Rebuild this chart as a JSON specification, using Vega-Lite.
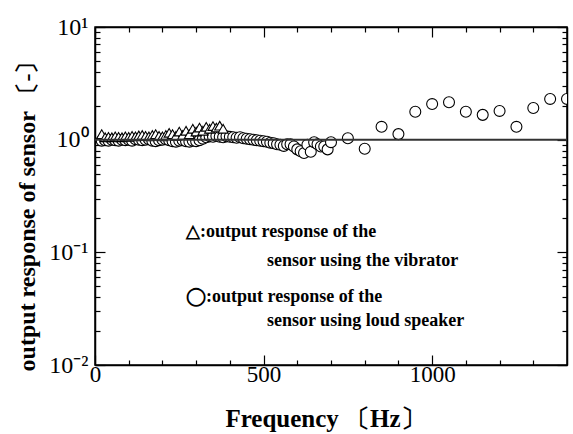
{
  "$schema": "https://vega.github.io/schema/vega-lite/v6.json",
  "width": 472,
  "height": 338,
  "autosize": "none",
  "padding": {"left": 95, "top": 27, "right": 6, "bottom": 69},
  "background": "white",
  "config": {
    "font": "Liberation Serif",
    "view": {"stroke": "black", "strokeWidth": 1.5},
    "axis": {"domainColor": "black", "domainWidth": 1.5, "tickColor": "black", "tickWidth": 1.2, "ticks": true, "grid": false, "labelColor": "black", "titleColor": "black"}
  },
  "datasets": {
    "speaker": [
      {"f": 20, "v": 0.98}, {"f": 30, "v": 0.99}, {"f": 40, "v": 0.98}, {"f": 50, "v": 1.0}, {"f": 60, "v": 0.99},
      {"f": 70, "v": 0.98}, {"f": 80, "v": 1.0}, {"f": 90, "v": 0.99}, {"f": 100, "v": 1.0}, {"f": 110, "v": 0.98},
      {"f": 120, "v": 1.01}, {"f": 130, "v": 1.0}, {"f": 140, "v": 0.99}, {"f": 150, "v": 1.0}, {"f": 160, "v": 1.01},
      {"f": 170, "v": 0.98}, {"f": 180, "v": 0.97}, {"f": 190, "v": 0.99}, {"f": 200, "v": 1.0}, {"f": 210, "v": 1.01},
      {"f": 220, "v": 0.99}, {"f": 230, "v": 0.97}, {"f": 240, "v": 0.96}, {"f": 250, "v": 0.98}, {"f": 260, "v": 0.99},
      {"f": 270, "v": 0.97}, {"f": 280, "v": 0.96}, {"f": 290, "v": 0.98}, {"f": 300, "v": 0.97}, {"f": 310, "v": 0.99},
      {"f": 320, "v": 1.02}, {"f": 330, "v": 1.05}, {"f": 340, "v": 1.07}, {"f": 350, "v": 1.06}, {"f": 360, "v": 1.08},
      {"f": 370, "v": 1.06}, {"f": 380, "v": 1.05}, {"f": 390, "v": 1.07}, {"f": 400, "v": 1.06}, {"f": 410, "v": 1.05},
      {"f": 420, "v": 1.04}, {"f": 430, "v": 1.05}, {"f": 440, "v": 1.03}, {"f": 450, "v": 1.02}, {"f": 460, "v": 1.01},
      {"f": 470, "v": 1.0}, {"f": 480, "v": 0.99}, {"f": 490, "v": 0.98}, {"f": 500, "v": 0.97}, {"f": 510, "v": 0.96},
      {"f": 520, "v": 0.94}, {"f": 530, "v": 0.93}, {"f": 540, "v": 0.91}, {"f": 550, "v": 0.9}, {"f": 560, "v": 0.88},
      {"f": 570, "v": 0.91}, {"f": 580, "v": 0.91}, {"f": 590, "v": 0.87}, {"f": 600, "v": 0.82}, {"f": 610, "v": 0.79},
      {"f": 620, "v": 0.76}, {"f": 630, "v": 0.9}, {"f": 640, "v": 0.78}, {"f": 650, "v": 0.95}, {"f": 660, "v": 0.91},
      {"f": 670, "v": 0.87}, {"f": 680, "v": 0.87}, {"f": 690, "v": 0.82}, {"f": 700, "v": 0.95},
      {"f": 750, "v": 1.03}, {"f": 800, "v": 0.83}, {"f": 850, "v": 1.3}, {"f": 900, "v": 1.12}, {"f": 950, "v": 1.77},
      {"f": 1000, "v": 2.07}, {"f": 1050, "v": 2.15}, {"f": 1100, "v": 1.77}, {"f": 1150, "v": 1.66}, {"f": 1200, "v": 1.8},
      {"f": 1250, "v": 1.3}, {"f": 1300, "v": 1.91}, {"f": 1350, "v": 2.3}, {"f": 1400, "v": 2.3}
    ],
    "vibrator": [
      {"f": 20, "v": 1.12}, {"f": 30, "v": 1.05}, {"f": 40, "v": 1.06}, {"f": 50, "v": 1.05}, {"f": 60, "v": 1.07},
      {"f": 70, "v": 1.06}, {"f": 80, "v": 1.05}, {"f": 90, "v": 1.07}, {"f": 100, "v": 1.06}, {"f": 110, "v": 1.08},
      {"f": 120, "v": 1.07}, {"f": 130, "v": 1.09}, {"f": 140, "v": 1.1}, {"f": 150, "v": 1.08}, {"f": 160, "v": 1.07},
      {"f": 170, "v": 1.1}, {"f": 180, "v": 1.12}, {"f": 190, "v": 1.08}, {"f": 200, "v": 1.07}, {"f": 210, "v": 1.1},
      {"f": 220, "v": 1.15}, {"f": 230, "v": 1.12}, {"f": 240, "v": 1.08}, {"f": 250, "v": 1.18}, {"f": 260, "v": 1.1},
      {"f": 270, "v": 1.2}, {"f": 280, "v": 1.12}, {"f": 290, "v": 1.25}, {"f": 300, "v": 1.18}, {"f": 310, "v": 1.28},
      {"f": 320, "v": 1.2}, {"f": 330, "v": 1.3}, {"f": 340, "v": 1.25}, {"f": 350, "v": 1.32}, {"f": 360, "v": 1.28},
      {"f": 370, "v": 1.33}, {"f": 380, "v": 1.25}
    ],
    "notes": [
      {"f": 270, "v": 0.152, "t": "△:output response of the"},
      {"f": 510, "v": 0.0839, "t": "sensor using the vibrator"},
      {"f": 270, "v": 0.0402, "t": "◯:output response of the"},
      {"f": 510, "v": 0.0246, "t": "sensor using loud speaker"}
    ],
    "unity": [{"v": 1}]
  },
  "layer": [
    {
      "data": {"name": "speaker"},
      "mark": {"type": "point", "shape": "circle", "filled": true, "fill": "white", "stroke": "black", "strokeWidth": 1.1, "size": 120, "opacity": 1, "clip": true},
      "encoding": {
        "x": {"field": "f", "type": "quantitative", "scale": {"domain": [0, 1400], "nice": false, "zero": false},
          "axis": {"orient": "bottom", "values": [0, 500, 1000],
            "format": "d",
            "labelFontSize": 23, "labelPadding": 8, "labelFlush": false,
            "tickSize": -10,
            "title": "Frequency 〔Hz〕", "titleFontSize": 25, "titleFontWeight": "bold",
            "titleX": 230, "titleY": 53, "titleBaseline": "middle", "titleAnchor": "middle"}},
        "y": {"field": "v", "type": "quantitative", "scale": {"type": "log", "domain": [0.01, 10], "nice": false},
          "axis": {"orient": "left",
            "values": [0.01, 0.1, 1, 10],
            "labelExpr": "abs(datum.value-0.01)<0.0001 ? '10⁻²' : abs(datum.value-0.1)<0.001 ? '10⁻¹' : abs(datum.value-1)<0.01 ? '10⁰' : '10¹'",
            "labelFontSize": 24, "labelPadding": 17,
            "tickSize": -10,
            "title": "output response of sensor 〔-〕", "titleFontSize": 24, "titleFontWeight": "bold",
            "titleX": -68, "titleY": 183, "titleBaseline": "middle", "titleAngle": -90, "titleAnchor": "middle"}}
      }
    },
    {
      "data": {"name": "vibrator"},
      "mark": {"type": "point", "shape": "triangle-up", "filled": true, "fill": "white", "stroke": "black", "strokeWidth": 1.1, "size": 100, "opacity": 1, "clip": true},
      "encoding": {
        "x": {"field": "f", "type": "quantitative", "scale": {"domain": [0, 1400], "nice": false, "zero": false},
          "axis": {"orient": "top", "values": [0, 500, 1000], "labels": false, "title": null, "tickSize": -10}},
        "y": {"field": "v", "type": "quantitative", "scale": {"type": "log", "domain": [0.01, 10], "nice": false},
          "axis": {"orient": "right", "values": [0.01, 0.1, 1, 10], "labels": false, "title": null, "tickSize": -10}}
      }
    },
    {
      "data": {"name": "vibrator"},
      "mark": {"type": "point", "shape": "triangle-up", "filled": true, "fill": "white", "stroke": "black", "strokeWidth": 1.1, "size": 100, "opacity": 0, "clip": true},
      "encoding": {
        "x": {"field": "f", "type": "quantitative", "scale": {"domain": [0, 1400], "nice": false, "zero": false},
          "axis": {"orient": "top", "values": [100,200,300,400,600,700,800,900,1100,1200,1300], "labels": false, "title": null, "domain": false, "tickSize": -5}},
        "y": {"field": "v", "type": "quantitative", "scale": {"type": "log", "domain": [0.01, 10], "nice": false},
          "axis": {"orient": "right", "values": [0.02,0.03,0.04,0.05,0.06,0.07,0.08,0.09,0.2,0.3,0.4,0.5,0.6,0.7,0.8,0.9,2,3,4,5,6,7,8,9], "labels": false, "title": null, "domain": false, "tickSize": -5}}
      }
    },
    {
      "data": {"name": "unity"},
      "mark": {"type": "rule", "color": "#333333", "strokeWidth": 2},
      "encoding": {"y": {"field": "v", "type": "quantitative", "axis": null}}
    },
    {
      "data": {"name": "notes"},
      "mark": {"type": "text", "align": "left", "baseline": "middle", "fontSize": 18, "fontWeight": "bold", "font": "Liberation Serif", "color": "black"},
      "encoding": {
        "x": {"field": "f", "type": "quantitative",
          "axis": {"orient": "bottom", "values": [100,200,300,400,600,700,800,900,1100,1200,1300], "labels": false, "title": null, "domain": false, "tickSize": -5}},
        "y": {"field": "v", "type": "quantitative",
          "axis": {"orient": "left", "values": [0.02,0.03,0.04,0.05,0.06,0.07,0.08,0.09,0.2,0.3,0.4,0.5,0.6,0.7,0.8,0.9,2,3,4,5,6,7,8,9], "labels": false, "title": null, "domain": false, "tickSize": -5}},
        "text": {"field": "t"}
      }
    }
  ],
  "resolve": {"axis": {"x": "independent", "y": "independent"}}
}
